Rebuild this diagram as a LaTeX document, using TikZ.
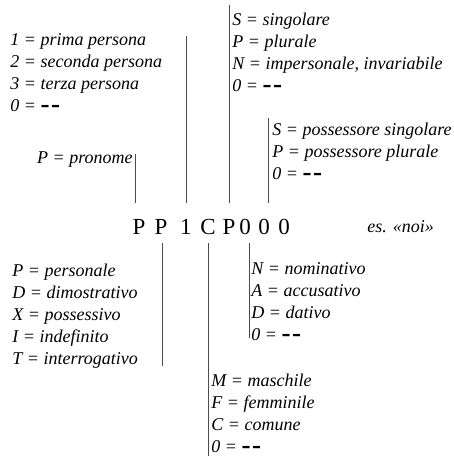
\documentclass[tikz,border=0pt]{standalone}
\usepackage{fontspec}
\setmainfont{Liberation Serif}
\newfontfamily\dashfont{DejaVu Sans}
\usetikzlibrary{positioning}

\newcommand{\nulla}{{\upshape\dashfont\bfseries\textendash\kern0.8pt\textendash}}

\begin{document}
\begin{tikzpicture}[
    x=0.5pt, y=-0.5pt,
    legend/.style={font=\fontsize{9}{11}\selectfont\itshape, align=left, inner sep=0pt, anchor=north west},
    letter/.style={font=\fontsize{11.5}{12}\selectfont, inner sep=0pt, anchor=base},
    bar/.style={draw=black!70, line width=0.5pt}
]
\useasboundingbox (0,0) rectangle (454,456);

% 1. Code (middle)
\node[letter] (c1) at (139,234) {P};
\node[letter] (c2) at (161,234) {P};
\node[letter] (c3) at (186,234) {1};
\node[letter] (c4) at (208,234) {C};
\node[letter] (c5) at (229,234) {P};
\node[letter] (c6) at (245,234) {0};
\node[letter] (c7) at (264,234) {0};
\node[letter] (c8) at (284,234) {0};
\node[legend, anchor=base west] (example) at (367,232) {es. «noi»};

\coordinate (up) at (0,203);
\coordinate (down) at (0,243);

% 2. Legends above the code
\node[legend, anchor=base east] (pronome) at (133,163) {P = pronome};
\node[legend] (persona) at (10,33) {1 = prima persona \\ 2 = seconda persona \\ 3 = terza persona \\ 0 = \nulla};
\node[legend] (numero) at (232,13) {S = singolare \\ P = plurale \\ N = impersonale, invariabile \\ 0 = \nulla};
\node[legend] (possessore) at (272,123) {S = possessore singolare \\ P = possessore plurale \\ 0 = \nulla};

% 3. Legends below the code
\node[legend] (tipo) at (12,264) {P = personale \\ D = dimostrativo \\ X = possessivo \\ I = indefinito \\ T = interrogativo};
\node[legend] (caso) at (251,262) {N = nominativo \\ A = accusativo \\ D = dativo \\ 0 = \nulla};
\node[legend] (genere) at (211,374) {M = maschile \\ F = femminile \\ C = comune \\ 0 = \nulla};

% Bars
\coordinate (b1) at (135,154);
\coordinate (b3) at (186,36);
\coordinate (b5) at (229,5);
\coordinate (b7) at (268,118);
\coordinate (b2) at (162,366);
\coordinate (b4) at (208,456);
\coordinate (b6) at (249,338);

\draw[bar] (b1) -- (b1 |- up);
\draw[bar] (b3) -- (b3 |- up);
\draw[bar] (b5) -- (b5 |- up);
\draw[bar] (b7) -- (b7 |- up);
\draw[bar] (b2) -- (b2 |- down);
\draw[bar] (b4) -- (b4 |- down);
\draw[bar] (b6) -- (b6 |- down);

\end{tikzpicture}
\end{document}
